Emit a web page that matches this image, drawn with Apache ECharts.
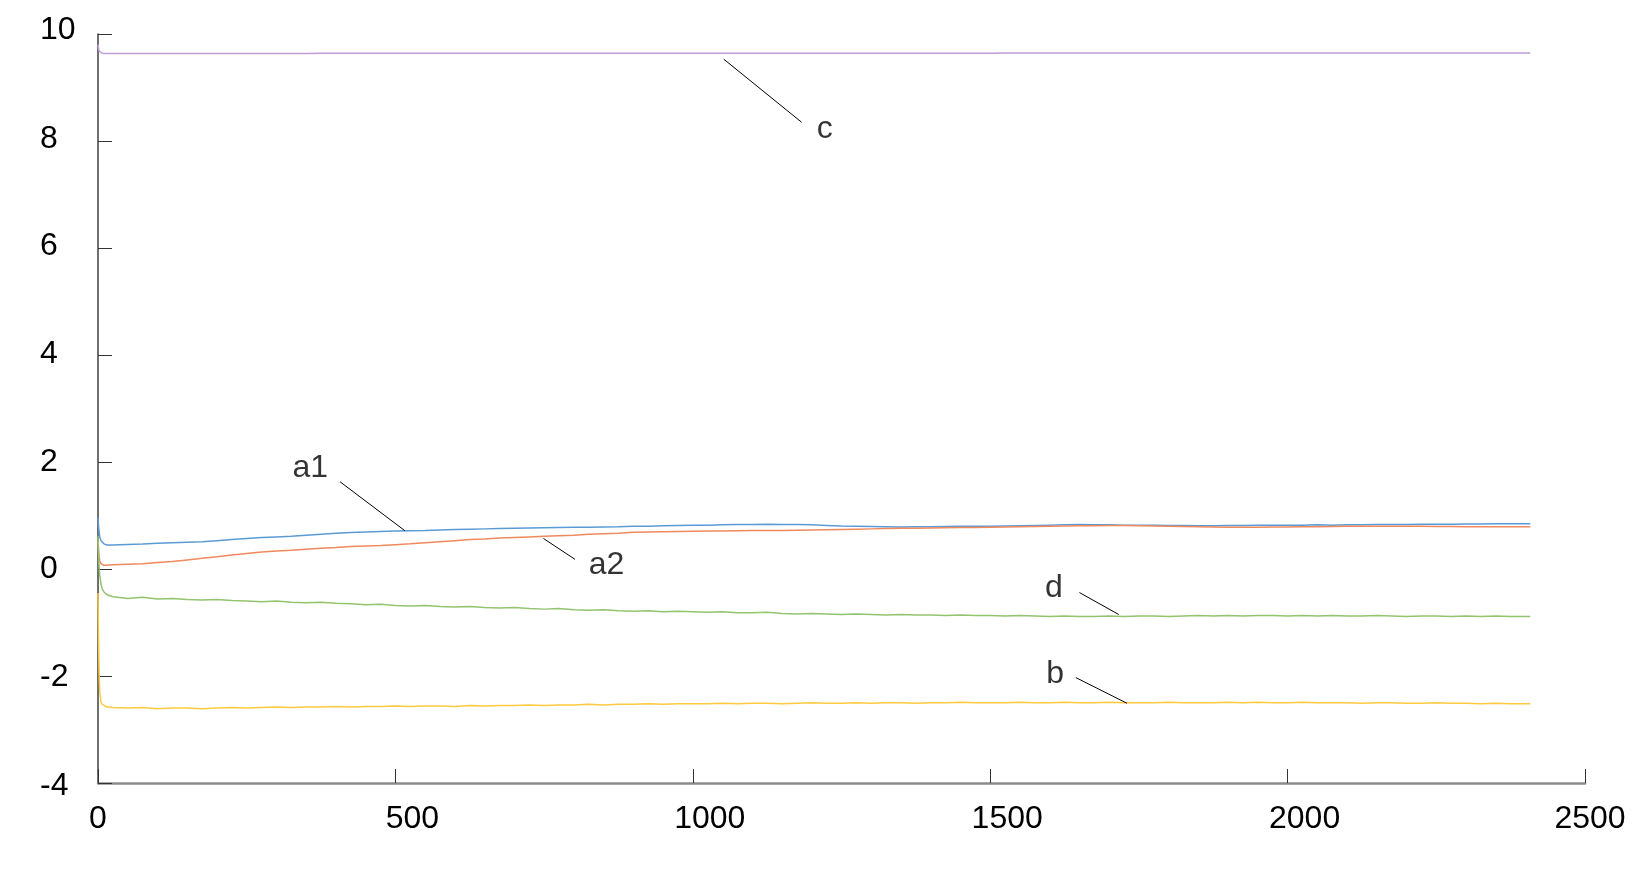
<!DOCTYPE html>
<html>
<head>
<meta charset="utf-8">
<script src="https://cdn.jsdelivr.net/npm/echarts@6/dist/echarts.min.js"></script>
<style>
    html, body { margin: 0; padding: 0; background: #fff; }
    #main { width: 1646px; height: 870px; }
</style>
</head>
<body>
<div id="main"></div>
<script type="text/javascript">
// sample positions (shared by every series)
var xs = [0, 1, 2, 3, 5, 7, 10, 15, 20,
    25, 50, 75, 100, 125, 150, 175, 200, 225, 250,
    275, 300, 325, 350, 375, 400, 425, 450, 475, 500,
    525, 550, 575, 600, 625, 650, 675, 700, 725, 750,
    775, 800, 825, 850, 875, 900, 925, 950, 975, 1000,
    1025, 1050, 1075, 1100, 1125, 1150, 1175, 1200, 1225, 1250,
    1275, 1300, 1325, 1350, 1375, 1400, 1425, 1450, 1475, 1500,
    1525, 1550, 1575, 1600, 1625, 1650, 1675, 1700, 1725, 1750,
    1775, 1800, 1825, 1850, 1875, 1900, 1925, 1950, 1975, 2000,
    2025, 2050, 2075, 2100, 2125, 2150, 2175, 2200, 2225, 2250,
    2275, 2300, 2325, 2350, 2375, 2408];

var a1 = [0.96, 0.80, 0.68, 0.60, 0.53, 0.50, 0.47, 0.45, 0.45,
    0.45, 0.46, 0.465, 0.48, 0.49, 0.50, 0.51, 0.53, 0.55, 0.57,
    0.59, 0.60, 0.61, 0.63, 0.65, 0.67, 0.68, 0.69, 0.70, 0.71,
    0.715, 0.72, 0.73, 0.74, 0.745, 0.75, 0.755, 0.76, 0.765, 0.77,
    0.775, 0.78, 0.78, 0.785, 0.79, 0.80, 0.80, 0.81, 0.815, 0.82,
    0.82, 0.825, 0.83, 0.83, 0.835, 0.83, 0.83, 0.825, 0.815, 0.805,
    0.80, 0.795, 0.79, 0.785, 0.79, 0.79, 0.795, 0.80, 0.80, 0.80,
    0.805, 0.81, 0.815, 0.82, 0.825, 0.83, 0.825, 0.825, 0.82, 0.82,
    0.82, 0.815, 0.815, 0.81, 0.81, 0.815, 0.815, 0.82, 0.82, 0.82,
    0.82, 0.825, 0.82, 0.825, 0.825, 0.83, 0.83, 0.83, 0.835, 0.835,
    0.835, 0.84, 0.84, 0.845, 0.845, 0.845];

var a2 = [0.54, 0.35, 0.22, 0.15, 0.10, 0.08, 0.07, 0.07, 0.075,
    0.08, 0.09, 0.10, 0.12, 0.14, 0.17, 0.20, 0.23, 0.26, 0.29,
    0.32, 0.335, 0.35, 0.37, 0.39, 0.40, 0.42, 0.43, 0.44, 0.455,
    0.47, 0.49, 0.51, 0.53, 0.55, 0.56, 0.58, 0.59, 0.60, 0.61,
    0.62, 0.63, 0.65, 0.66, 0.67, 0.685, 0.69, 0.695, 0.70, 0.705,
    0.71, 0.71, 0.715, 0.72, 0.72, 0.72, 0.725, 0.73, 0.735, 0.74,
    0.745, 0.75, 0.755, 0.76, 0.76, 0.765, 0.77, 0.775, 0.775, 0.78,
    0.785, 0.79, 0.795, 0.80, 0.805, 0.81, 0.81, 0.815, 0.815, 0.81,
    0.805, 0.80, 0.795, 0.79, 0.785, 0.78, 0.78, 0.78, 0.785, 0.785,
    0.79, 0.79, 0.795, 0.80, 0.80, 0.80, 0.80, 0.80, 0.80, 0.795,
    0.795, 0.79, 0.79, 0.79, 0.79, 0.79];

var c = [9.80, 9.72, 9.68, 9.66, 9.645, 9.64, 9.635, 9.635, 9.635,
    9.635, 9.635, 9.635, 9.635, 9.635, 9.635, 9.635, 9.637, 9.637, 9.637,
    9.637, 9.637, 9.637, 9.637, 9.638, 9.638, 9.638, 9.638, 9.638, 9.638,
    9.638, 9.638, 9.639, 9.639, 9.639, 9.639, 9.639, 9.639, 9.639, 9.64,
    9.64, 9.64, 9.64, 9.64, 9.64, 9.64, 9.64, 9.64, 9.64, 9.64,
    9.64, 9.641, 9.641, 9.641, 9.641, 9.641, 9.641, 9.641, 9.641, 9.641,
    9.642, 9.642, 9.642, 9.642, 9.642, 9.642, 9.642, 9.642, 9.642, 9.642,
    9.643, 9.643, 9.643, 9.643, 9.643, 9.643, 9.643, 9.643, 9.643, 9.643,
    9.644, 9.644, 9.644, 9.644, 9.644, 9.644, 9.644, 9.644, 9.644, 9.644,
    9.645, 9.645, 9.645, 9.645, 9.645, 9.645, 9.645, 9.645, 9.645, 9.645,
    9.645, 9.645, 9.645, 9.645, 9.645, 9.645];

var d = [0.62, 0.25, 0.02, -0.12, -0.28, -0.37, -0.43, -0.48, -0.50,
    -0.52, -0.55, -0.53, -0.56, -0.55, -0.57, -0.58, -0.57, -0.59, -0.60,
    -0.61, -0.60, -0.62, -0.63, -0.62, -0.64, -0.65, -0.67, -0.66, -0.68,
    -0.69, -0.68, -0.70, -0.71, -0.70, -0.72, -0.73, -0.72, -0.74, -0.75,
    -0.74, -0.76, -0.77, -0.76, -0.78, -0.79, -0.78, -0.80, -0.79, -0.80,
    -0.81, -0.80, -0.82, -0.82, -0.81, -0.83, -0.84, -0.83, -0.84, -0.85,
    -0.84, -0.85, -0.86, -0.85, -0.86, -0.86, -0.87, -0.86, -0.87, -0.87,
    -0.88, -0.87, -0.88, -0.89, -0.88, -0.89, -0.89, -0.88, -0.89, -0.88,
    -0.88, -0.89, -0.88, -0.87, -0.88, -0.87, -0.88, -0.87, -0.87, -0.88,
    -0.87, -0.88, -0.87, -0.88, -0.88, -0.87, -0.88, -0.89, -0.88, -0.88,
    -0.89, -0.88, -0.89, -0.88, -0.89, -0.89];

var b = [-0.45, -1.40, -2.00, -2.30, -2.48, -2.53, -2.56, -2.58, -2.58,
    -2.59, -2.60, -2.59, -2.61, -2.60, -2.60, -2.61, -2.60, -2.59, -2.60,
    -2.59, -2.58, -2.59, -2.58, -2.58, -2.57, -2.58, -2.57, -2.57, -2.56,
    -2.57, -2.56, -2.56, -2.57, -2.55, -2.56, -2.55, -2.55, -2.54, -2.55,
    -2.54, -2.54, -2.53, -2.54, -2.53, -2.53, -2.52, -2.53, -2.52, -2.52,
    -2.52, -2.51, -2.52, -2.51, -2.51, -2.52, -2.51, -2.50, -2.51, -2.51,
    -2.50, -2.51, -2.50, -2.50, -2.51, -2.50, -2.50, -2.49, -2.50, -2.50,
    -2.50, -2.49, -2.50, -2.50, -2.49, -2.50, -2.50, -2.49, -2.50, -2.50,
    -2.50, -2.49, -2.50, -2.50, -2.50, -2.49, -2.50, -2.49, -2.50, -2.50,
    -2.49, -2.50, -2.50, -2.50, -2.51, -2.50, -2.50, -2.51, -2.51, -2.50,
    -2.51, -2.51, -2.52, -2.51, -2.52, -2.52];

// label text, where it sits, and its leader line (data coordinates)
var labelNames = ['c', 'a1', 'a2', 'd', 'b'];
var labelAt = [[1222, 8.23], [357, 1.89], [855, 0.08], [1607, -0.36], [1609, -1.97]];
var leaderFrom = [[1052, 9.53], [407, 1.63], [749, 0.57], [1650, -0.44], [1644, -2.03]];
var leaderTo = [[1183, 8.35], [516, 0.715], [802, 0.18], [1716, -0.85], [1730, -2.51]];

var FONT = '"Liberation Sans", Arial, sans-serif';

function pairs(vals) {
    return xs.map(function (x, i) { return [x, vals[i]]; });
}

var curves = [
    { name: 'c', data: c, color: '#c39bd3' },
    { name: 'a1', data: a1, color: '#5b9bd5' },
    { name: 'a2', data: a2, color: '#f08a5d' },
    { name: 'd', data: d, color: '#93c46e' },
    { name: 'b', data: b, color: '#ffc940' }
];

var series = curves.map(function (s) {
    return {
        name: s.name,
        type: 'line',
        showSymbol: false,
        silent: true,
        lineStyle: { color: s.color, width: 1.5 },
        data: pairs(s.data)
    };
});

labelNames.forEach(function (n, i) {
    series.push({
        type: 'line',
        showSymbol: false,
        silent: true,
        lineStyle: { color: '#000', width: 1 },
        data: [leaderFrom[i], leaderTo[i]]
    });
});

series.push({
    type: 'scatter',
    symbolSize: 0,
    silent: true,
    label: {
        show: true,
        position: 'inside',
        formatter: function (p) { return p.name; },
        color: '#000',
        fontSize: 32,
        fontFamily: FONT
    },
    data: labelNames.map(function (n, i) { return { name: n, value: labelAt[i] }; })
});

// small vertical nudges of the y tick labels, to sit like the original
var yNudge = { '10': -4, '8': -2, '6': -2, '4': -1, '2': 0, '0': 0, '-2': 1, '-4': 3 };
var yRich = {};
Object.keys(yNudge).forEach(function (k, i) {
    var s = yNudge[k];
    yRich['y' + i] = {
        fontSize: 32, fontFamily: FONT, color: '#000',
        padding: s < 0 ? [0, 0, -2 * s, 0] : [2 * s, 0, 0, 0]
    };
});
var yKeys = Object.keys(yNudge);

var myChart = echarts.init(document.getElementById('main'));
var option = {
    animation: false,
    backgroundColor: '#fff',
    grid: { left: 98, right: 61, top: 34, bottom: 87 },
    xAxis: {
        type: 'value',
        min: 0,
        max: 2500,
        interval: 500,
        axisLine: { show: true, onZero: false, lineStyle: { color: '#8c8c8c', width: 2.5 } },
        axisTick: { show: true, inside: true, length: 14, lineStyle: { color: '#333', width: 1 } },
        splitLine: { show: false },
        axisLabel: {
            margin: 20,
            color: '#000',
            fontSize: 32,
            fontFamily: FONT,
            formatter: function (v) {
                if (v === 0) return '{z|0}';
                if (v === 2500) return '{e|2500}';
                return '{m|' + v + '}';
            },
            rich: {
                z: { fontSize: 32, fontFamily: FONT, color: '#000' },
                m: { fontSize: 32, fontFamily: FONT, color: '#000', padding: [0, 0, 0, 34] },
                e: { fontSize: 32, fontFamily: FONT, color: '#000', padding: [0, 0, 0, 10] }
            }
        }
    },
    yAxis: {
        type: 'value',
        min: -4,
        max: 10,
        interval: 2,
        axisLine: { show: true, lineStyle: { color: '#404040', width: 1.5 } },
        axisTick: { show: true, inside: true, length: 14, lineStyle: { color: '#333', width: 1 } },
        splitLine: { show: false },
        axisLabel: {
            align: 'left',
            margin: 58,
            color: '#000',
            fontSize: 32,
            fontFamily: FONT,
            formatter: function (v) {
                var i = yKeys.indexOf(String(v));
                return i < 0 ? String(v) : '{y' + i + '|' + v + '}';
            },
            rich: yRich
        }
    },
    series: series
};
myChart.setOption(option);
</script>
</body>
</html>
